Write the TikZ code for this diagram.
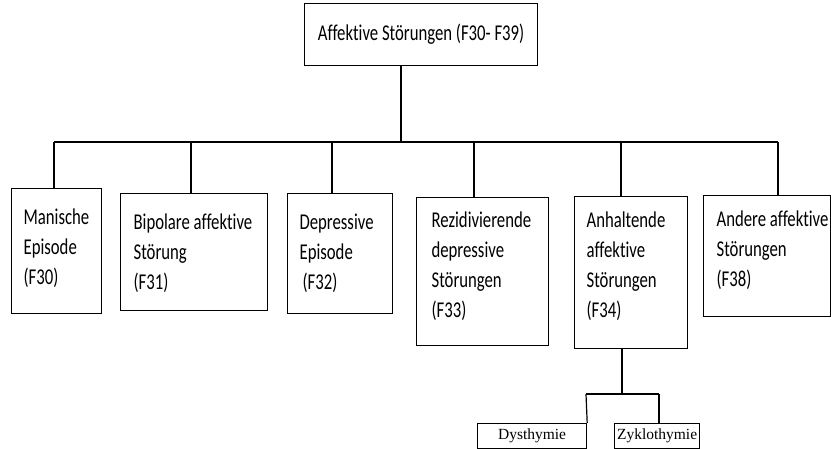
\documentclass[tikz,border=0pt]{standalone}
\usepackage{fontspec}
\newfontfamily\boxfont{Carlito}[FakeStretch=0.74,RawFeature={-liga}]
\newfontfamily\serfont{Liberation Serif}
\newcommand\lstrut{\rule{0pt}{20pt}}
\begin{document}
\begin{tikzpicture}[x=1pt,y=-1pt,line width=1.2pt,
  box/.style={draw, inner sep=0pt, anchor=north west},
  txt/.style={anchor=north west, inner sep=0pt, align=left, font=\boxfont\fontsize{22.6}{30}\selectfont},
  sub/.style={draw, inner sep=0pt, anchor=north west, font=\serfont\fontsize{15.5}{18}\selectfont}]
\useasboundingbox (0,0) rectangle (831,449);
% top
\node[box, minimum width=233pt, minimum height=62pt, font=\boxfont\fontsize{22.6}{30}\selectfont] (top) at (304,3) {Affektive Störungen (F30- F39)};
% boxes
\node[box, minimum width=90pt,  minimum height=125pt] (b1) at (11,188) {};
\node[box, minimum width=147pt, minimum height=117pt] (b2) at (120,193) {};
\node[box, minimum width=105pt, minimum height=120pt] (b3) at (287,193) {};
\node[box, minimum width=132pt, minimum height=148pt] (b4) at (416,197) {};
\node[box, minimum width=113pt, minimum height=152pt] (b5) at (574,196) {};
\node[box, minimum width=127pt, minimum height=121pt] (b6) at (703,195) {};
% texts
\node[txt] (t1) at (23,204)  {\lstrut Manische\\Episode\\(F30)};
\node[txt] (t2) at (133,209) {\lstrut Bipolare affektive\\Störung\\(F31)};
\node[txt] (t3) at (299,209) {\lstrut Depressive\\Episode\\\hspace{3pt}(F32)};
\node[txt] (t4) at (431,207) {\lstrut Rezidivierende\\depressive\\Störungen\\(F33)};
\node[txt] (t5) at (586,207) {\lstrut Anhaltende\\affektive\\Störungen\\(F34)};
\node[txt] (t6) at (716,206) {\lstrut Andere affektive\\Störungen\\(F38)};
% sub boxes
\node[sub, minimum width=109pt, minimum height=25pt] (dys) at (477,423) {Dysthymie};
\node[sub, minimum width=85pt,  minimum height=25pt] (zyk) at (614,423) {Zyklothymie};
% connectors
\coordinate (hub) at (401,142);
\coordinate (d1) at (54,142);
\coordinate (d2) at (191,142);
\coordinate (d3) at (332,142);
\coordinate (d4) at (474,142);
\coordinate (d5) at (621,142);
\coordinate (d6) at (778,142);
\draw (hub |- top.south) -- (hub);
\draw (d1) -- (d6);
\draw (d1) -- (d1 |- b1.north);
\draw (d2) -- (d2 |- b2.north);
\draw (d3) -- (d3 |- b3.north);
\draw (d4) -- (d4 |- b4.north);
\draw (d5) -- (d5 |- b5.north);
\draw (d6) -- (d6 |- b6.north);
\coordinate (shub) at (622,394);
\coordinate (sl) at (586,394);
\coordinate (sr) at (659,394);
\draw (shub |- b5.south) -- (shub);
\draw (sl) -- (sr);
\draw (sl) -- (dys.north east);
\draw (sr) -- (sr |- zyk.north);
\end{tikzpicture}
\end{document}
